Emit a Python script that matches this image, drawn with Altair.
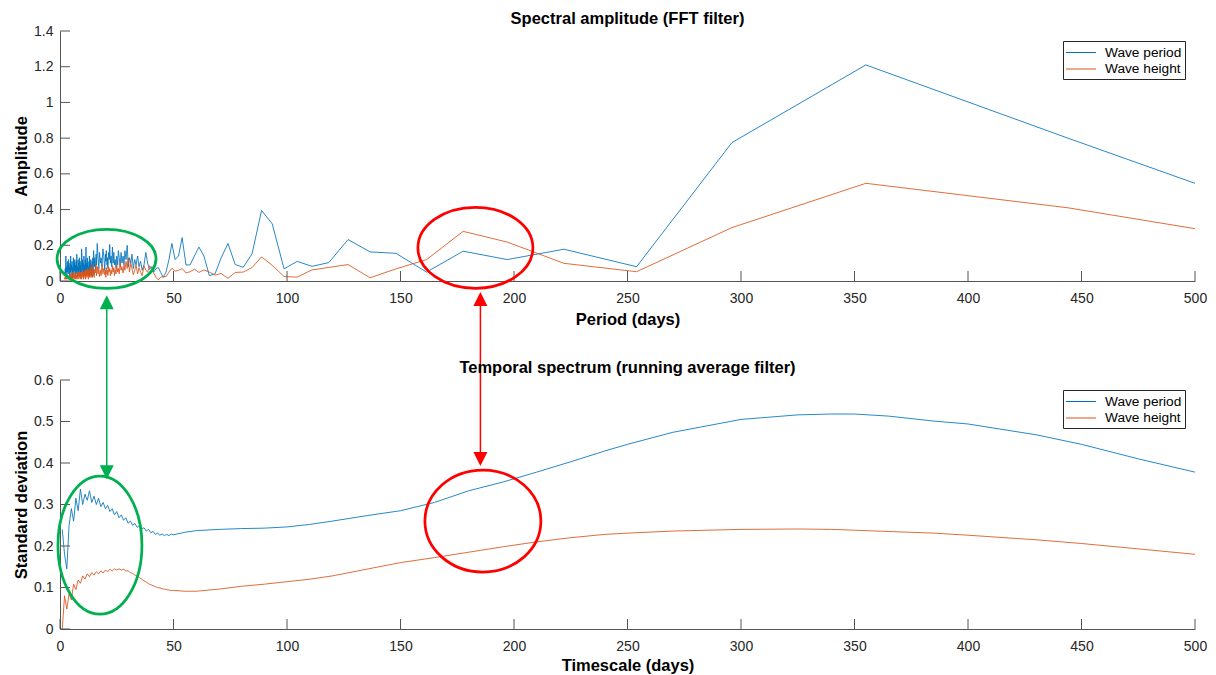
import altair as alt
import pandas as pd

# ---------------- data: top panel (FFT spectral amplitude) ----------------
fft_period = [
    500, 444, 355, 296, 254, 222, 197, 177.6, 161.5, 148, 136.6, 126.9, 118.4, 111, 104.5,
    98.7, 93.5, 88.8, 84.6, 80.7, 77.2, 74, 71, 68.3, 65.8, 63.4, 61.2, 59.2, 57.3, 55.5,
    53.8, 52.2, 50.7, 49.3, 48, 46.7, 45.5, 44.4, 43.3, 42.3, 41.3,
    40.4, 39.5, 38.6, 37.8, 37.0, 36.2, 35.5, 34.8, 34.2, 33.5, 32.9, 32.3, 31.7, 31.2,
    30.6, 30.1, 29.6, 29.1, 28.6, 28.2, 27.8, 27.3, 26.9, 26.5, 26.1, 25.7, 25.4, 25.0,
    24.7, 24.3, 24.0, 23.7, 23.4, 23.1, 22.8, 22.5, 22.2, 21.9, 21.7, 21.4, 21.1, 20.9,
    20.7, 20.4, 20.2, 20.0, 19.7, 19.3, 18.9, 18.5, 18.1, 17.8, 17.4, 17.1, 16.8, 16.4,
    16.1, 15.9, 15.6, 15.3, 15.1, 14.8,
    14.6, 14.45, 14.3, 14.15, 14.0, 13.85, 13.7, 13.55, 13.4, 13.25, 13.1, 12.95, 12.8,
    12.65, 12.5, 12.35, 12.2, 12.05, 11.9, 11.75, 11.6, 11.45, 11.3, 11.15, 11.0, 10.85,
    10.7, 10.55, 10.4, 10.25, 10.1, 9.95, 9.8, 9.65, 9.5, 9.35, 9.2, 9.05, 8.9, 8.75, 8.6,
    8.45, 8.3, 8.15, 8.0, 7.85, 7.7, 7.55, 7.4, 7.25, 7.1, 6.95, 6.8, 6.65, 6.5, 6.35, 6.2,
    6.05, 5.9, 5.75, 5.6, 5.45, 5.3, 5.15, 5.0, 4.85, 4.7, 4.55, 4.4, 4.25, 4.1, 3.95, 3.8,
    3.65, 3.5, 3.35, 3.2, 3.05, 2.9, 2.75, 2.6, 2.45, 2.3, 2.15, 2.0,
]
fft_wave_period = [
    0.547, 0.80, 1.21, 0.775, 0.08, 0.178, 0.12, 0.167, 0.05, 0.155, 0.163, 0.232, 0.103, 0.082, 0.11,
    0.068, 0.32, 0.395, 0.152, 0.077, 0.092, 0.21, 0.13, 0.04, 0.03, 0.14, 0.19, 0.14, 0.09, 0.09,
    0.243, 0.14, 0.12, 0.21, 0.12, 0.05, 0.02, 0.047, 0.075, 0.07, 0.05,
    0.08, 0.065, 0.10, 0.16, 0.09, 0.06, 0.11, 0.08, 0.14, 0.09, 0.12, 0.07, 0.15, 0.10,
    0.13, 0.08, 0.20, 0.12, 0.17, 0.09, 0.14, 0.10, 0.16, 0.08, 0.13, 0.17, 0.09, 0.14,
    0.07, 0.12, 0.09, 0.16, 0.10, 0.19, 0.08, 0.14, 0.10, 0.205, 0.12, 0.16, 0.07, 0.13,
    0.09, 0.17, 0.11, 0.15, 0.06, 0.14, 0.18, 0.08, 0.13, 0.10, 0.16, 0.07, 0.12, 0.21,
    0.09, 0.15, 0.06, 0.13, 0.08, 0.17,
    0.04, 0.13, 0.06, 0.11, 0.03, 0.09, 0.05, 0.12, 0.04, 0.10, 0.06, 0.14, 0.03,
    0.08, 0.05, 0.11, 0.04, 0.13, 0.07, 0.10, 0.03, 0.19, 0.06, 0.12, 0.04, 0.09,
    0.05, 0.14, 0.03, 0.10, 0.06, 0.12, 0.04, 0.15, 0.18, 0.05, 0.11, 0.03, 0.09, 0.06, 0.13,
    0.04, 0.10, 0.05, 0.12, 0.03, 0.08, 0.06, 0.15, 0.04, 0.11, 0.05, 0.09, 0.03, 0.12, 0.06, 0.10,
    0.04, 0.13, 0.05, 0.08, 0.03, 0.11, 0.06, 0.09, 0.04, 0.14, 0.05, 0.10, 0.03, 0.08, 0.06, 0.12,
    0.04, 0.09, 0.05, 0.11, 0.03, 0.08, 0.05, 0.14, 0.04, 0.07, 0.03, 0.05,
]
fft_wave_height = [
    0.293, 0.41, 0.547, 0.299, 0.052, 0.099, 0.218, 0.278, 0.12, 0.068, 0.018, 0.092, 0.076, 0.062, 0.022,
    0.025, 0.088, 0.135, 0.075, 0.05, 0.048, 0.015, 0.042, 0.033, 0.05, 0.062, 0.048, 0.066, 0.052, 0.045,
    0.07, 0.06, 0.055, 0.072, 0.05, 0.024, 0.025, 0.022, 0.006, 0.02, 0.045,
    0.07, 0.085, 0.05, 0.06, 0.085, 0.03, 0.05, 0.075, 0.04, 0.09, 0.06, 0.035, 0.07, 0.10,
    0.05, 0.13, 0.07, 0.11, 0.06, 0.09, 0.045, 0.08, 0.06, 0.10, 0.04, 0.07, 0.05, 0.09,
    0.04, 0.065, 0.03, 0.075, 0.05, 0.085, 0.04, 0.06, 0.03, 0.07, 0.05, 0.08, 0.03, 0.06,
    0.04, 0.075, 0.02, 0.06, 0.035, 0.07, 0.04, 0.09, 0.03, 0.06, 0.025, 0.07, 0.04, 0.08,
    0.03, 0.09, 0.045, 0.065, 0.02, 0.06,
    0.03, 0.07, 0.02, 0.09, 0.04, 0.06, 0.02, 0.08, 0.03, 0.05, 0.02, 0.07, 0.03,
    0.06, 0.01, 0.05, 0.03, 0.07, 0.02, 0.05, 0.03, 0.06, 0.01, 0.05, 0.02, 0.06,
    0.03, 0.04, 0.01, 0.05, 0.02, 0.06, 0.03, 0.04, 0.01, 0.05, 0.02, 0.04, 0.01, 0.05, 0.02,
    0.04, 0.03, 0.05, 0.01, 0.04, 0.02, 0.05, 0.01, 0.03, 0.02, 0.05, 0.01, 0.04, 0.02, 0.03, 0.01,
    0.04, 0.02, 0.05, 0.01, 0.03, 0.02, 0.04, 0.01, 0.03, 0.02, 0.04, 0.01, 0.03, 0.02, 0.03, 0.01,
    0.03, 0.02, 0.03, 0.01, 0.02, 0.01, 0.03, 0.01, 0.02, 0.01, 0.02, 0.01,
]

# ---------------- data: bottom panel (running average std) ----------------
ts_days = list(range(1, 51)) + [
    55, 60, 70, 80, 90, 100, 110, 120, 135, 150, 165, 180, 195, 210, 225, 240, 250, 270,
    300, 325, 340, 350, 365, 385, 400, 430, 450, 475, 500,
]
ts_wave_period = [
    0.24, 0.18, 0.145, 0.25, 0.29, 0.26, 0.315, 0.285, 0.337, 0.30, 0.325, 0.31, 0.333, 0.305,
    0.32, 0.30, 0.315, 0.295, 0.305, 0.29, 0.298, 0.283, 0.29, 0.275, 0.283, 0.268, 0.275,
    0.262, 0.268, 0.255, 0.26, 0.25, 0.254, 0.245, 0.249, 0.241, 0.244, 0.236, 0.24, 0.232,
    0.235, 0.228, 0.231, 0.226, 0.229, 0.225, 0.228, 0.225, 0.229, 0.227,
    0.233, 0.237, 0.240, 0.242, 0.243, 0.246, 0.252, 0.260, 0.273, 0.285, 0.305, 0.333,
    0.354, 0.378, 0.403, 0.429, 0.445, 0.474, 0.505, 0.516, 0.518, 0.518, 0.513, 0.501,
    0.494, 0.468, 0.445, 0.41, 0.378,
]
ts_wave_height = [
    0.0, 0.08, 0.048, 0.085, 0.07, 0.108, 0.095, 0.118, 0.11, 0.128, 0.12, 0.133, 0.126, 0.136,
    0.13, 0.138, 0.133, 0.14, 0.135, 0.142, 0.138, 0.144, 0.14, 0.145, 0.142, 0.145, 0.142,
    0.144, 0.14, 0.14, 0.136, 0.134, 0.13, 0.128, 0.124, 0.12, 0.116, 0.113, 0.109, 0.107,
    0.104, 0.102, 0.1, 0.099, 0.097, 0.096, 0.095, 0.094, 0.093, 0.093,
    0.091, 0.091, 0.096, 0.103, 0.108, 0.114, 0.12, 0.128, 0.144, 0.16, 0.172, 0.185,
    0.198, 0.21, 0.22, 0.228, 0.231, 0.236, 0.24, 0.241, 0.24, 0.238, 0.235, 0.231,
    0.226, 0.215, 0.206, 0.193, 0.18,
]

x_ticks = [0, 50, 100, 150, 200, 250, 300, 350, 400, 450, 500]
top_y_ticks = [0, 0.2, 0.4, 0.6, 0.8, 1, 1.2, 1.4]
bot_y_ticks = [0, 0.1, 0.2, 0.3, 0.4, 0.5, 0.6]
series_names = ["Wave period", "Wave height"]
series_colors = ["#0072BD", "#D95319"]

# ---------------- styling ----------------
FONT = "Liberation Sans"
AXIS_GREY = "#555555"
LABEL_GREY = "#262626"
GREEN = "#00B050"
RED = "#FF0000"
W = 1135
H_TOP = 250
H_BOT = 249
LINE_W = 0.85


def ellipse_path(r):
    k = 0.5523
    a = round(k * r, 4)
    r = round(r, 4)
    return (f"M1,0 C1,{a} {k},{r} 0,{r} C{-k},{r} -1,{a} -1,0 "
            f"C-1,{-a} {-k},{-r} 0,{-r} C{k},{-r} 1,{-a} 1,0 Z")


HEAD_UP = "M0,-1L1,1L-1,1Z"
HEAD_DOWN = "M0,1L1,-1L-1,-1Z"


def long_df(xs, ya, yb):
    return pd.DataFrame({
        "x": list(xs) + list(xs),
        "y": list(ya) + list(yb),
        "series": [series_names[0]] * len(xs) + [series_names[1]] * len(xs),
    })


def panel(df, ymax, yticks, height, ytitle, xtitle, title, annots, xtitle_pad):
    xs = alt.Scale(domain=[0, 500], nice=False, zero=False)
    ys = alt.Scale(domain=[0, ymax], nice=False, zero=False)
    color = alt.Color(
        "series:N",
        scale=alt.Scale(domain=series_names, range=series_colors),
        legend=alt.Legend(
            title=None, orient="top-right", offset=10,
            strokeColor="#262626", fillColor="white", padding=3,
            labelFont=FONT, labelFontSize=13.7, labelColor="black",
            symbolType="M-1.875,0L1.875,0", symbolSize=256, symbolStrokeWidth=1,
            symbolOffset=6.5, labelOffset=15.5, rowPadding=0.5, cornerRadius=0,
        ),
    )
    xaxis = alt.Axis(
        values=x_ticks, format="d", ticks=False, grid=False, labelFlush=False,
        labelOverlap=False, domainColor=AXIS_GREY, labelColor=LABEL_GREY,
        labelFont=FONT, labelFontSize=14, labelPadding=10,
        title=xtitle, titleFont=FONT, titleFontSize=16.5, titleFontWeight="bold",
        titleColor="black", titlePadding=xtitle_pad,
    )
    yaxis = alt.Axis(
        values=yticks, format="~r", ticks=False, grid=False, labelOverlap=False,
        domainColor=AXIS_GREY, labelColor=LABEL_GREY, labelFont=FONT,
        labelFontSize=14, labelPadding=7,
        title=ytitle, titleFont=FONT, titleFontSize=16.5, titleFontWeight="bold",
        titleColor="black", titlePadding=4,
    )

    def X():
        return alt.X("x:Q", scale=xs, axis=xaxis)

    def Y():
        return alt.Y("y:Q", scale=ys, axis=yaxis)

    first = alt.Chart(df).transform_filter(
        alt.datum.series == series_names[0]
    ).mark_line(strokeWidth=LINE_W).encode(x=X(), y=Y(), color=color)
    second = alt.Chart(df).transform_filter(
        alt.datum.series == series_names[1]
    ).mark_line(strokeWidth=LINE_W).encode(x=X(), y=Y(), color=color)
    xt = alt.Chart(pd.DataFrame({"x": x_ticks})).mark_rule(
        color=AXIS_GREY, strokeWidth=1
    ).encode(x=X(), y=alt.value(height), y2=alt.value(height - 10))
    yt = alt.Chart(pd.DataFrame({"y": yticks})).mark_rule(
        color=AXIS_GREY, strokeWidth=1
    ).encode(y=Y(), x=alt.value(0), x2=alt.value(10))
    layers = [first, second, xt, yt]
    for a in annots:
        kind = a["kind"]
        if kind == "ellipse":
            layers.append(
                alt.Chart(pd.DataFrame({"x": [a["x"]], "y": [a["y"]]})).mark_point(
                    shape=ellipse_path(a["ratio"]), size=a["size"], filled=False,
                    color=a["color"], strokeWidth=2.75, opacity=1,
                ).encode(x=X(), y=Y())
            )
        elif kind == "arrow":
            layers.append(
                alt.Chart(pd.DataFrame({"x": [a["x"]], "y": [a["y1"]], "y2": [a["y2"]]})).mark_rule(
                    color=a["color"], strokeWidth=1.5
                ).encode(x=X(), y=Y(), y2="y2:Q")
            )
            for yy, shp in ((a["y1"], HEAD_UP), (a["y2"], HEAD_DOWN)):
                layers.append(
                    alt.Chart(pd.DataFrame({"x": [a["x"]], "y": [yy]})).mark_point(
                        shape=shp, size=196, filled=True, color=a["color"],
                        opacity=1, strokeWidth=0,
                    ).encode(x=X(), y=Y())
                )
    return alt.layer(*layers).properties(
        width=W, height=height,
        title=alt.TitleParams(
            title, frame="group", anchor="middle", offset=-3.5, font=FONT,
            fontSize=16.5, fontWeight="bold", color="black",
        ),
    )


top_annots = [
    {"kind": "ellipse", "x": 20.5, "y": 0.124, "ratio": 0.596, "size": 9801, "color": GREEN},
    {"kind": "ellipse", "x": 183.0, "y": 0.186, "ratio": 0.704, "size": 13225, "color": RED},
    {"kind": "arrow", "x": 20.6, "y1": -0.119, "y2": -1.071, "color": GREEN},
    {"kind": "arrow", "x": 185.2, "y1": -0.101, "y2": -0.997, "color": RED},
]
bot_annots = [
    {"kind": "ellipse", "x": 17.6, "y": 0.202, "ratio": 1.643, "size": 7056, "color": GREEN},
    {"kind": "ellipse", "x": 186.3, "y": 0.26, "ratio": 0.879, "size": 13456, "color": RED},
]

top = panel(long_df(fft_period, fft_wave_period, fft_wave_height), 1.4, top_y_ticks, H_TOP,
            "Amplitude", "Period (days)", "Spectral amplitude (FFT filter)", top_annots, 6)
bottom = panel(long_df(ts_days, ts_wave_period, ts_wave_height), 0.6, bot_y_ticks, H_BOT,
               "Standard deviation", "Timescale (days)",
               "Temporal spectrum (running average filter)", bot_annots, 4)

chart = alt.vconcat(top, bottom, spacing=99, bounds="flush").resolve_scale(
    color="independent"
).resolve_legend(color="independent").properties(
    padding={"left": 5, "top": 3, "right": 0, "bottom": 0},
    background="white",
).configure_view(strokeWidth=0)

chart.save("out.html", embed_options={"renderer": "svg", "actions": False})
